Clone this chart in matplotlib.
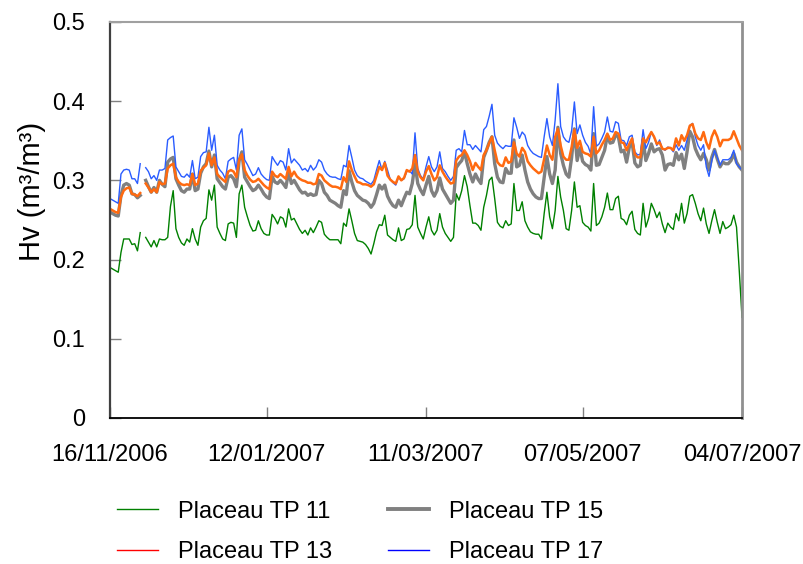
import matplotlib
matplotlib.use("Agg")
import matplotlib.pyplot as plt
from matplotlib.lines import Line2D
import numpy as np
import pandas as pd

plt.rcParams['font.family'] = ['Liberation Sans', 'DejaVu Sans']
plt.rcParams['font.size'] = 17

nan = np.nan

# daily volumetric water content, 16/11/2006 -> 04/07/2007 (day 12 missing)
start_date = '2006-11-16'

tp11 = [
    0.190, 0.188, 0.186, 0.184, 0.209, 0.226, 0.226, 0.226, 0.219, 0.220,
    0.211, 0.234, nan, 0.228, 0.222, 0.216, 0.224, 0.216, 0.226, 0.225,
    0.225, 0.228, 0.267, 0.287, 0.239, 0.228, 0.221, 0.218, 0.226, 0.222,
    0.239, 0.226, 0.218, 0.241, 0.249, 0.252, 0.288, 0.275, 0.294, 0.241,
    0.233, 0.226, 0.224, 0.245, 0.247, 0.246, 0.228, 0.283, 0.294, 0.266,
    0.254, 0.243, 0.236, 0.237, 0.249, 0.239, 0.233, 0.231, 0.231, 0.257,
    0.252, 0.245, 0.254, 0.252, 0.241, 0.264, 0.250, 0.252, 0.245, 0.238,
    0.233, 0.237, 0.231, 0.240, 0.234, 0.241, 0.249, 0.247, 0.232, 0.228,
    0.225, 0.225, 0.225, 0.225, 0.220, 0.246, 0.242, 0.264, 0.249, 0.233,
    0.224, 0.223, 0.222, 0.219, 0.214, 0.207, 0.220, 0.235, 0.244, 0.243,
    0.256, 0.231, 0.228, 0.225, 0.223, 0.240, 0.224, 0.226, 0.238, 0.239,
    0.244, 0.281, 0.241, 0.233, 0.226, 0.241, 0.254, 0.237, 0.231, 0.237,
    0.258, 0.241, 0.233, 0.228, 0.223, 0.228, 0.283, 0.275, 0.287, 0.306,
    0.292, 0.268, 0.246, 0.246, 0.243, 0.237, 0.266, 0.281, 0.300, 0.304,
    0.277, 0.247, 0.242, 0.240, 0.249, 0.243, 0.245, 0.296, 0.262, 0.262,
    0.273, 0.249, 0.241, 0.235, 0.233, 0.232, 0.232, 0.226, 0.258, 0.285,
    0.254, 0.239, 0.262, 0.305, 0.279, 0.262, 0.239, 0.237, 0.262, 0.298,
    0.266, 0.268, 0.247, 0.243, 0.241, 0.236, 0.296, 0.243, 0.246, 0.254,
    0.266, 0.284, 0.263, 0.263, 0.277, 0.280, 0.252, 0.250, 0.244, 0.256,
    0.261, 0.238, 0.233, 0.231, 0.271, 0.241, 0.252, 0.271, 0.263, 0.253,
    0.260, 0.245, 0.234, 0.246, 0.241, 0.238, 0.258, 0.249, 0.271, 0.246,
    0.258, 0.280, 0.282, 0.271, 0.258, 0.249, 0.265, 0.245, 0.233, 0.249,
    0.263, 0.247, 0.233, 0.248, 0.239, 0.241, 0.244, 0.256, 0.241, 0.186,
    0.127,
]

tp13 = [
    0.264, 0.262, 0.260, 0.259, 0.279, 0.287, 0.290, 0.291, 0.283, 0.282,
    0.280, 0.284, nan, 0.296, 0.291, 0.285, 0.289, 0.285, 0.298, 0.295,
    0.296, 0.315, 0.319, 0.321, 0.304, 0.298, 0.295, 0.294, 0.295, 0.294,
    0.308, 0.294, 0.296, 0.312, 0.316, 0.319, 0.334, 0.319, 0.329, 0.308,
    0.304, 0.301, 0.298, 0.311, 0.313, 0.311, 0.304, 0.326, 0.333, 0.313,
    0.306, 0.301, 0.298, 0.299, 0.302, 0.298, 0.294, 0.291, 0.289, 0.311,
    0.306, 0.304, 0.308, 0.305, 0.302, 0.317, 0.305, 0.311, 0.305, 0.302,
    0.300, 0.299, 0.297, 0.297, 0.295, 0.296, 0.308, 0.306, 0.300, 0.297,
    0.294, 0.292, 0.292, 0.291, 0.289, 0.304, 0.298, 0.324, 0.313, 0.305,
    0.298, 0.297, 0.295, 0.295, 0.294, 0.292, 0.295, 0.306, 0.317, 0.313,
    0.322, 0.306, 0.301, 0.298, 0.296, 0.305, 0.300, 0.303, 0.313, 0.311,
    0.315, 0.332, 0.311, 0.304, 0.300, 0.311, 0.318, 0.308, 0.300, 0.304,
    0.319, 0.311, 0.305, 0.300, 0.296, 0.297, 0.325, 0.330, 0.332, 0.338,
    0.332, 0.324, 0.313, 0.322, 0.317, 0.313, 0.332, 0.338, 0.347, 0.355,
    0.338, 0.323, 0.319, 0.318, 0.329, 0.322, 0.324, 0.348, 0.334, 0.330,
    0.341, 0.336, 0.324, 0.319, 0.315, 0.312, 0.309, 0.311, 0.327, 0.344,
    0.332, 0.326, 0.355, 0.365, 0.344, 0.330, 0.326, 0.326, 0.342, 0.364,
    0.341, 0.350, 0.336, 0.334, 0.333, 0.330, 0.355, 0.334, 0.338, 0.345,
    0.351, 0.359, 0.351, 0.353, 0.361, 0.359, 0.348, 0.347, 0.338, 0.346,
    0.353, 0.333, 0.329, 0.329, 0.353, 0.348, 0.355, 0.361, 0.355, 0.346,
    0.348, 0.340, 0.339, 0.341, 0.341, 0.338, 0.353, 0.344, 0.357, 0.350,
    0.357, 0.369, 0.371, 0.359, 0.353, 0.351, 0.361, 0.348, 0.340, 0.355,
    0.363, 0.355, 0.343, 0.351, 0.351, 0.351, 0.353, 0.362, 0.353, 0.344,
    0.338,
]

tp15 = [
    0.260, 0.258, 0.256, 0.255, 0.281, 0.294, 0.296, 0.294, 0.283, 0.282,
    0.278, 0.281, nan, 0.300, 0.292, 0.285, 0.291, 0.285, 0.300, 0.295,
    0.292, 0.323, 0.327, 0.329, 0.302, 0.294, 0.287, 0.285, 0.289, 0.289,
    0.308, 0.287, 0.289, 0.309, 0.317, 0.321, 0.337, 0.317, 0.332, 0.302,
    0.297, 0.292, 0.289, 0.304, 0.306, 0.302, 0.292, 0.325, 0.336, 0.304,
    0.298, 0.292, 0.287, 0.289, 0.294, 0.289, 0.283, 0.279, 0.277, 0.305,
    0.298, 0.296, 0.300, 0.296, 0.291, 0.311, 0.296, 0.300, 0.294, 0.288,
    0.284, 0.285, 0.281, 0.283, 0.281, 0.282, 0.300, 0.296, 0.285, 0.281,
    0.275, 0.273, 0.271, 0.268, 0.266, 0.287, 0.282, 0.312, 0.298, 0.287,
    0.281, 0.278, 0.275, 0.274, 0.271, 0.266, 0.271, 0.282, 0.294, 0.289,
    0.294, 0.280, 0.273, 0.268, 0.266, 0.275, 0.268, 0.277, 0.285, 0.283,
    0.296, 0.321, 0.296, 0.288, 0.282, 0.294, 0.305, 0.287, 0.280, 0.287,
    0.303, 0.289, 0.283, 0.277, 0.271, 0.275, 0.316, 0.321, 0.325, 0.336,
    0.321, 0.308, 0.298, 0.308, 0.301, 0.296, 0.329, 0.338, 0.348, 0.355,
    0.321, 0.304, 0.298, 0.297, 0.315, 0.309, 0.309, 0.351, 0.317, 0.319,
    0.332, 0.313, 0.298, 0.289, 0.283, 0.279, 0.277, 0.277, 0.304, 0.330,
    0.308, 0.296, 0.313, 0.367, 0.334, 0.319, 0.308, 0.304, 0.329, 0.365,
    0.325, 0.341, 0.324, 0.320, 0.318, 0.313, 0.359, 0.319, 0.320, 0.329,
    0.338, 0.357, 0.347, 0.348, 0.357, 0.355, 0.336, 0.338, 0.323, 0.342,
    0.348, 0.322, 0.317, 0.319, 0.351, 0.325, 0.334, 0.346, 0.336, 0.339,
    0.340, 0.332, 0.313, 0.320, 0.321, 0.319, 0.335, 0.326, 0.333, 0.315,
    0.336, 0.362, 0.355, 0.340, 0.332, 0.326, 0.334, 0.326, 0.313, 0.329,
    0.339, 0.327, 0.317, 0.323, 0.321, 0.321, 0.325, 0.334, 0.323, 0.317,
    0.313,
]

tp17 = [
    0.277, 0.275, 0.273, 0.271, 0.308, 0.313, 0.314, 0.313, 0.302, 0.302,
    0.296, 0.321, nan, 0.316, 0.311, 0.302, 0.306, 0.300, 0.313, 0.313,
    0.315, 0.351, 0.354, 0.356, 0.317, 0.311, 0.305, 0.304, 0.308, 0.304,
    0.325, 0.302, 0.304, 0.330, 0.335, 0.336, 0.367, 0.338, 0.357, 0.319,
    0.313, 0.309, 0.302, 0.324, 0.327, 0.329, 0.313, 0.357, 0.365, 0.326,
    0.320, 0.313, 0.306, 0.308, 0.316, 0.308, 0.304, 0.301, 0.300, 0.330,
    0.324, 0.319, 0.325, 0.323, 0.313, 0.340, 0.322, 0.327, 0.323, 0.319,
    0.313, 0.315, 0.311, 0.319, 0.313, 0.317, 0.326, 0.323, 0.313, 0.308,
    0.305, 0.304, 0.304, 0.302, 0.301, 0.319, 0.317, 0.344, 0.329, 0.313,
    0.306, 0.303, 0.302, 0.299, 0.297, 0.295, 0.300, 0.313, 0.325, 0.313,
    0.324, 0.313, 0.301, 0.297, 0.294, 0.304, 0.300, 0.302, 0.311, 0.312,
    0.308, 0.360, 0.315, 0.306, 0.302, 0.317, 0.330, 0.317, 0.311, 0.317,
    0.336, 0.315, 0.311, 0.305, 0.300, 0.305, 0.338, 0.340, 0.336, 0.363,
    0.345, 0.345, 0.339, 0.344, 0.340, 0.336, 0.364, 0.368, 0.381, 0.396,
    0.357, 0.347, 0.343, 0.340, 0.344, 0.343, 0.343, 0.379, 0.367, 0.353,
    0.361, 0.357, 0.344, 0.338, 0.334, 0.332, 0.330, 0.329, 0.355, 0.378,
    0.355, 0.344, 0.376, 0.422, 0.368, 0.355, 0.350, 0.348, 0.363, 0.399,
    0.359, 0.370, 0.357, 0.348, 0.343, 0.333, 0.393, 0.343, 0.346, 0.353,
    0.361, 0.380, 0.362, 0.361, 0.374, 0.372, 0.351, 0.350, 0.344, 0.355,
    0.357, 0.336, 0.332, 0.333, 0.364, 0.340, 0.348, 0.361, 0.355, 0.344,
    0.351, 0.340, 0.338, 0.342, 0.341, 0.336, 0.345, 0.338, 0.344, 0.338,
    0.351, 0.369, 0.372, 0.355, 0.344, 0.338, 0.345, 0.317, 0.305, 0.325,
    0.338, 0.329, 0.319, 0.326, 0.326, 0.326, 0.329, 0.338, 0.321, 0.317,
    0.313,
]

tick_dates = ['2006-11-16', '2007-01-12', '2007-03-11', '2007-05-07', '2007-07-04']
y_ticks = [0, 0.1, 0.2, 0.3, 0.4, 0.5]
y_labels = ['0', '0.1', '0.2', '0.3', '0.4', '0.5']
legend_labels = ['Placeau TP 11', 'Placeau TP 13', 'Placeau TP 15', 'Placeau TP 17']

dates = pd.date_range(start_date, periods=len(tp11), freq='D')

fig = plt.figure(figsize=(8.04, 5.64), dpi=100)
ax = fig.add_axes([0.1368, 0.2589, 0.7861, 0.7022])

ax.plot(dates, tp11, color='#008000', lw=1.0)
ax.plot(dates, tp15, color='#808080', lw=2.4)
ax.plot(dates, tp17, color='#2a5cff', lw=1.0)
ax.plot(dates, tp13, color='#ff6a10', lw=1.8)

ax.set_xlim(dates[0], dates[-1])
ax.set_ylim(0, 0.5)

xt = pd.to_datetime(tick_dates)
ax.set_xticks(xt)
ax.set_xticklabels([d.strftime('%d/%m/%Y') for d in xt])
ax.set_yticks(y_ticks)
ax.set_yticklabels(y_labels)

ax.tick_params(axis='both', direction='in', length=8, width=1, colors='#808080',
               labelcolor='black')
ax.tick_params(axis='x', pad=19)
ax.tick_params(axis='y', pad=18)

ax.spines['left'].set_color('#404040')
ax.spines['left'].set_linewidth(1.6)
ax.spines['bottom'].set_color('black')
ax.spines['bottom'].set_linewidth(1.3)
ax.spines['top'].set_color('#a0a0a0')
ax.spines['top'].set_linewidth(1.5)
ax.spines['right'].set_color('#909090')
ax.spines['right'].set_linewidth(2)

ax.set_ylabel('Hv (m³/m³)', fontsize=21)
ax.yaxis.set_label_coords(-0.101, 0.571)

# legend below the axes, two columns
handles = [
    Line2D([], [], color='#008000', lw=1.0),
    Line2D([], [], color='#ff0000', lw=1.0),
    Line2D([], [], color='#808080', lw=2.8),
    Line2D([], [], color='#0000ff', lw=1.0),
]
fig.legend(handles, legend_labels, ncol=2, frameon=False, loc='center',
           bbox_to_anchor=(0.448, 0.057), handlelength=1.7, handletextpad=0.85,
           columnspacing=2.4, labelspacing=0.78)

fig.savefig('out.png', dpi=100)
